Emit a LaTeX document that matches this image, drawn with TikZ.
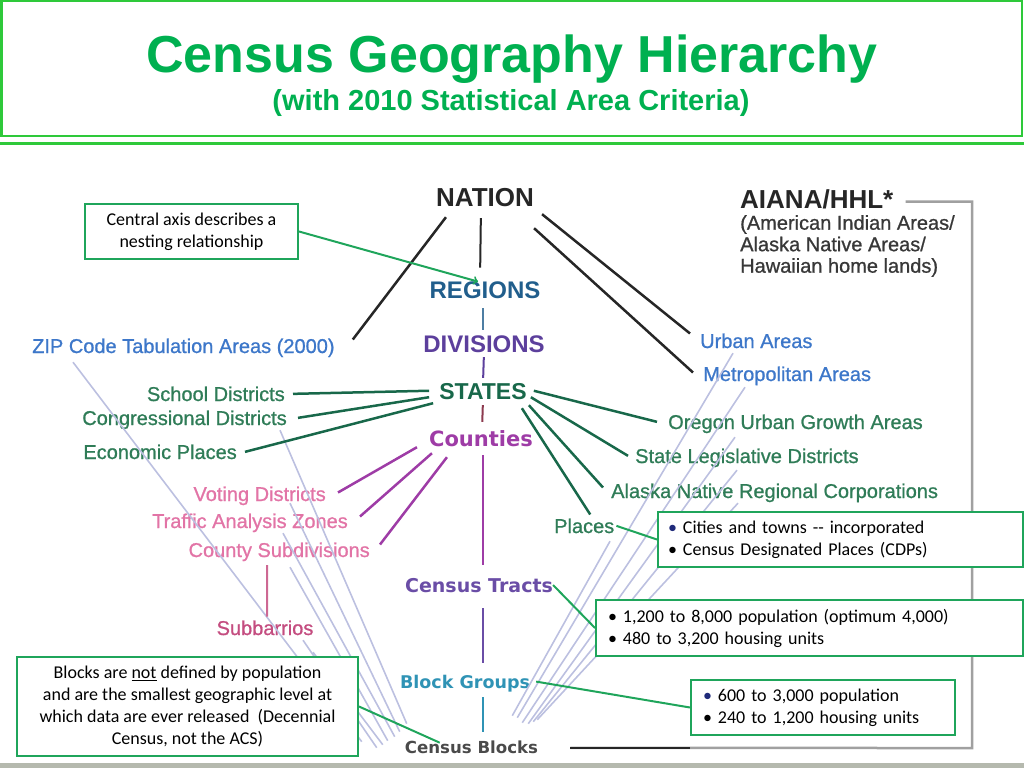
\documentclass[tikz,border=0pt]{standalone}
\usepackage{fontspec}
\setmainfont{Liberation Sans}
\newfontfamily\calib{Carlito}
\newfontfamily\wide{DejaVu Sans}
\newfontfamily\heavy{Liberation Sans}[FakeBold=0.9]

\definecolor{ttlgreen}{HTML}{00B050}
\definecolor{framegreen}{HTML}{2EC93A}
\definecolor{notegreen}{HTML}{1FA55B}
\definecolor{nationgray}{HTML}{262626}
\definecolor{regblue}{HTML}{215E8C}
\definecolor{divpurple}{HTML}{5C3F9C}
\definecolor{stgreen}{HTML}{18684A}
\definecolor{cntmag}{HTML}{9E3CA6}
\definecolor{trpurple}{HTML}{6A4DA6}
\definecolor{bgteal}{HTML}{2F93B5}
\definecolor{blkgray}{HTML}{4A4A4A}
\definecolor{sideblue}{HTML}{3D77C9}
\definecolor{sidegreen}{HTML}{2F7C57}
\definecolor{sidepink}{HTML}{E274A6}
\definecolor{subpink}{HTML}{C44D80}
\definecolor{fanlav}{HTML}{BCC0E0}
\definecolor{brgray}{HTML}{A0A0A0}
\definecolor{bandgray}{HTML}{B5B9AE}
\definecolor{aigray}{HTML}{383838}
\definecolor{bulletnavy}{HTML}{1F2A7A}
\definecolor{redtie}{HTML}{8C3A4E}

\begin{document}
\begin{tikzpicture}[x=1pt,y=-1pt,
  lbl/.style={inner sep=0pt,text height=14.3pt,text depth=0pt,font=\heavy\fontsize{20}{24}\selectfont},
  head/.style={inner sep=0pt,text depth=0pt,anchor=base},
  tie/.style={line width=2pt},
  blk/.style={line width=2.5pt,nationgray},
  stline/.style={line width=2.5pt,stgreen},
  cntline/.style={line width=2.5pt,cntmag},
  fan/.style={line width=1.6pt,fanlav},
  note/.style={draw=notegreen,line width=2pt,fill=white,inner sep=0pt,font=\calib\fontsize{18}{22}\selectfont},
  noteline/.style={notegreen,line width=2pt},
  bracket/.style={brgray,line width=2.5pt}]
\useasboundingbox (0,0) rectangle (1024,768);

% title frame
\draw[framegreen,line width=2.5pt] (1.25,1.25) rectangle (1022,136);
\draw[framegreen,line width=3pt] (0,143) -- (1024,143);
\fill[bandgray] (0,763) rectangle (1024,768);
\node[head,font=\bfseries\fontsize{52}{60}\selectfont,ttlgreen] (title) at (512,72) {Census Geography Hierarchy};
\node[head,font=\bfseries\fontsize{29}{34}\selectfont,ttlgreen] (subtitle) at (511,110) {(with 2010 Statistical Area Criteria)};

% central axis
\node[head,font=\bfseries\fontsize{26}{30}\selectfont,text height=18.6pt,nationgray] (nation) at (485,206) {NATION};
\node[head,font=\bfseries\fontsize{24}{28}\selectfont,text height=17.2pt,regblue] (regions) at (485,298) {REGIONS};
\node[head,font=\bfseries\fontsize{24}{28}\selectfont,text height=17.2pt,divpurple] (divisions) at (484,352) {DIVISIONS};
\node[head,font=\bfseries\fontsize{23}{27}\selectfont,text height=16.5pt,stgreen] (states) at (483,399) {STATES};
\node[head,font=\wide\bfseries\fontsize{21}{25}\selectfont,text height=15.3pt,cntmag] (counties) at (481,446) {Counties};
\node[head,font=\wide\bfseries\fontsize{19}{22}\selectfont,text height=13.9pt,trpurple] (tracts) at (479,592) {Census Tracts};
\node[head,font=\wide\bfseries\fontsize{17.5}{21}\selectfont,text height=12.8pt,bgteal] (bgroups) at (465,688) {Block Groups};
\node[head,font=\wide\bfseries\fontsize{16.6}{20}\selectfont,text height=12.1pt,blkgray] (blocks) at (471.5,753) {Census Blocks};

\node[head,anchor=base west,font=\bfseries\fontsize{26}{30}\selectfont,text height=18.6pt,nationgray] (aiana) at (740,208) {AIANA/HHL*};
\node[anchor=north west,inner sep=0pt,align=left,font=\heavy\fontsize{20}{21.5}\selectfont,aigray] (aianasub) at (740,215) {(American Indian Areas/\\Alaska Native Areas/\\Hawaiian home lands)};

% side labels
\node[lbl,anchor=base west,sideblue] (zip) at (32,353) {ZIP Code Tabulation Areas (2000)};
\node[lbl,anchor=base east,sidegreen] (school) at (285,401) {School Districts};
\node[lbl,anchor=base east,sidegreen] (congr) at (287,425) {Congressional Districts};
\node[lbl,anchor=base east,sidegreen] (econ) at (237,459) {Economic Places};
\node[lbl,anchor=base east,sidepink] (voting) at (326,501) {Voting Districts};
\node[lbl,anchor=base east,sidepink] (traffic) at (348,528) {Traffic Analysis Zones};
\node[lbl,anchor=base east,sidepink] (countysub) at (370,557) {County Subdivisions};
\node[lbl,anchor=base,subpink] (subbarrios) at (265,635) {Subbarrios};
\node[lbl,anchor=base west,sideblue] (urban) at (700,348) {Urban Areas};
\node[lbl,anchor=base west,sideblue] (metro) at (703,381) {Metropolitan Areas};
\node[lbl,anchor=base west,sidegreen] (oregon) at (668,429) {Oregon Urban Growth Areas};
\node[lbl,anchor=base west,sidegreen] (statelegis) at (635,463) {State Legislative Districts};
\node[lbl,anchor=base west,sidegreen] (alaska) at (611,498) {Alaska Native Regional Corporations};
\node[lbl,anchor=base west,sidegreen] (places) at (554,533) {Places};

% block fan
\foreach \src/\sa/\sx/\sy/\ea/\ex/\ey in {
  zip/south west/41pt/-9pt/north west/-43pt/-1pt,
  congr/south east/-7pt/-5pt/north west/2pt/17pt,
  voting/south east/-36pt/-2pt/north west/-5pt/9pt,
  traffic/south east/-65pt/-5pt/north west/-10pt/4pt,
  countysub/south east/-80pt/-10pt/north west/-17pt/0pt,
  subbarrios/south/38pt/-5pt/north west/-28pt/-7pt,
  subbarrios/south/48pt/-17pt/north west/-22pt/-4pt,
  urban/south west/33pt/-5pt/north east/-21pt/23pt,
  metro/south west/42pt/-6pt/north east/-16pt/18pt,
  oregon/south west/67pt/-8pt/north east/-10pt/17pt,
  statelegis/south west/102pt/-7pt/north east/-5pt/19pt,
  alaska/south west/127pt/-5pt/north east/-1pt/21pt,
  places/south west/56pt/-8pt/north east/-26pt/25pt}
  \draw[fan] ([xshift=\sx,yshift=\sy]\src.\sa) -- ([xshift=\ex,yshift=\ey]blocks.\ea);

% nation lines
\draw[blk] ([xshift=10pt,yshift=-11pt]nation.south west) -- ([xshift=18pt,yshift=-1pt]zip.north east);
\draw[blk] ([xshift=8pt,yshift=-8pt]nation.south east) -- ([xshift=-10pt]urban.north west);
\draw[blk] ([yshift=-22pt]nation.south east) -- ([xshift=-10pt,yshift=-6pt]metro.north west);
\draw[tie,nationgray,shorten <=12pt,shorten >=13pt] ([xshift=-4pt]nation.south) -- ([xshift=-5pt]regions.north);
\draw[tie,regblue!80,shorten <=10pt,shorten >=5pt] ([xshift=-2pt]regions.south) -- ([xshift=-1pt]divisions.north);
\draw[tie,divpurple,shorten <=5pt,shorten >=4.5pt] (divisions.south) -- (states.north);
\draw[tie,redtie,shorten <=6pt,shorten >=8.7pt] (states.south) -- ([xshift=1pt]counties.north);
\draw[tie,cntmag,shorten <=9pt,shorten >=13pt] ([xshift=2pt]counties.south) -- ([xshift=4pt]tracts.north);
\draw[tie,trpurple,shorten <=16pt,shorten >=12pt] ([xshift=4pt]tracts.south) -- ([xshift=18pt]bgroups.north);
\draw[tie,bgteal,shorten <=9pt,shorten >=9pt] ([xshift=18pt]bgroups.south) -- ([xshift=11.5pt]blocks.north);

% state lines
\draw[stline] ([xshift=8pt]school.east) -- ([xshift=-10pt]states.west);
\draw[stline] ([xshift=11pt]congr.east) -- ([xshift=-10pt,yshift=2pt]states.south west);
\draw[stline] ([xshift=8pt]econ.east) -- ([xshift=-6pt,yshift=-4pt]states.south west);
\draw[stline] ([xshift=7pt]states.east) -- ([xshift=-11pt]oregon.west);
\draw[stline] ([xshift=4pt,yshift=2pt]states.south east) -- ([xshift=-7pt]statelegis.west);
\draw[stline] ([xshift=2pt,yshift=-6pt]states.south east) -- ([xshift=-8pt,yshift=-4pt]alaska.north west);
\draw[stline] ([xshift=-5pt,yshift=-9pt]states.south east) -- ([xshift=6pt,yshift=4pt]places.north);

% county lines
\draw[cntline] ([xshift=12pt,yshift=-6pt]voting.north east) -- ([xshift=-12pt,yshift=-1pt]counties.south west);
\draw[cntline] ([xshift=12pt,yshift=-3pt]traffic.north east) -- ([xshift=3pt,yshift=-7pt]counties.south west);
\draw[cntline] ([xshift=10pt,yshift=-2pt]countysub.north east) -- ([xshift=18pt,yshift=-11pt]counties.south west);
\draw[tie,subpink!85] ([xshift=-12pt,yshift=-8pt]countysub.south) -- ([xshift=2pt,yshift=4pt]subbarrios.north);

% aiana bracket
\coordinate (corner) at (972,748);
\draw[bracket] ([xshift=12pt,yshift=-3pt]aiana.east) -| (corner) -- ([xshift=32pt,yshift=-1pt]blocks.east);
\draw[line width=1.5pt,nationgray] ([xshift=32pt,yshift=-1pt]blocks.east) -- ++(120,0);

% notes
\node[note,minimum width=213pt,minimum height=55pt,align=center] (axisnote) at (191.5,231.5) {Central axis describes a\\nesting relationship};
\node[note,inner xsep=10pt,text width=345pt,minimum height=55pt,align=left] (cities) at (840.5,539.5) {\textcolor{bulletnavy}{\textbullet}\ Cities and towns -{}- incorporated\\\textbullet\ Census Designated Places (CDPs)};
\node[note,inner xsep=12pt,text width=403pt,minimum height=56pt,align=left] (tractsnote) at (809.5,628) {\textbullet\hspace{6pt}1,200 to 8,000 population (optimum 4,000)\\\textbullet\hspace{6pt}480 to 3,200 housing units};
\node[note,inner xsep=12pt,text width=240pt,minimum height=55pt,align=left] (bgnote) at (823,707.5) {\textcolor{bulletnavy}{\textbullet}\hspace{6pt}600 to 3,000 population\\\textbullet\hspace{6pt}240 to 1,200 housing units};
\node[note,minimum width=341pt,minimum height=99pt,align=center] (blocksnote) at (187.5,706.5) {Blocks are \underline{not} defined by population\\and are the smallest geographic level at\\which data are ever released~ (Decennial\\Census, not the ACS)};

\draw[noteline,->] (axisnote.east) -- ([xshift=-7pt,yshift=-1pt]regions.north);
\draw[noteline] ([xshift=2pt]places.east) -- (cities.west);
\draw[noteline] (tracts.east) -- (tractsnote.west);
\draw[noteline] ([xshift=6pt]bgroups.east) -- (bgnote.west);
\draw[noteline] (blocksnote.east) -- ([xshift=35pt,yshift=-2pt]blocks.north west);

\end{tikzpicture}
\end{document}
